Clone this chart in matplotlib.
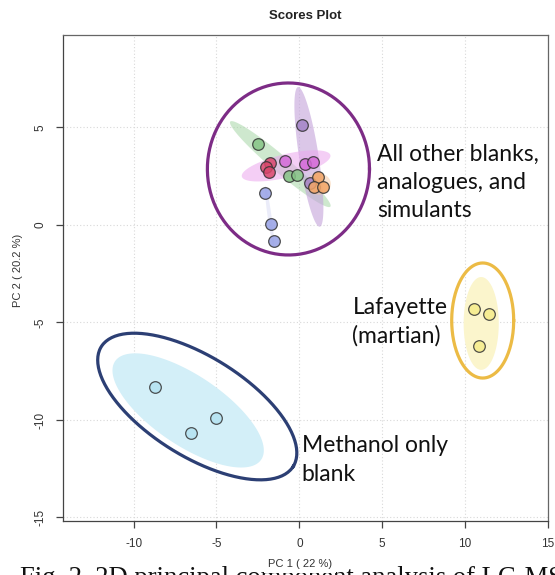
import numpy as np
import matplotlib
matplotlib.use("Agg")
import matplotlib.pyplot as plt

plt.rcParams["axes.unicode_minus"] = False

# PCA scores, one list per group (PC1, PC2)
green_x = [-2.52, -0.62, -0.16]
green_y = [4.15, 2.50, 2.55]
lav_x = [0.18, 0.66]
lav_y = [5.11, 2.14]
red_x = [-1.75, -2.03, -1.85]
red_y = [3.16, 2.96, 2.72]
mag_x = [-0.89, 0.36, 0.81]
mag_y = [3.28, 3.14, 3.21]
orange_x = [1.10, 0.87, 1.45]
orange_y = [2.44, 1.93, 1.97]
peri_x = [-2.10, -1.71, -1.51]
peri_y = [1.66, 0.03, -0.80]
cyan_x = [-8.68, -5.02, -6.55]
cyan_y = [-8.29, -9.88, -10.68]
yellow_x = [10.53, 11.44, 10.83]
yellow_y = [-4.32, -4.58, -6.19]

# ellipses: centre, two conjugate half-axis vectors (data units)
ell_green = [(-1.15, 3.12), (3.02, -2.18), (0.33, 0.33)]
ell_lav = [(0.575, 3.49), (-0.655, 3.58), (0.58, 0.08)]
ell_mag = [(-0.80, 3.03), (2.67, 0.55), (0.17, -0.58)]
ell_orange = [(1.15, 2.10), (0.75, 0.0), (0.0, 0.55)]
ell_peri = [(-1.80, 0.45), (-0.25, 1.55), (0.12, 0.0)]
ell_cyan_fill = [(-6.71, -9.51), (4.41, -2.52), (-1.18, -1.49)]
ell_cyan_line = [(-6.16, -9.31), (5.79, -3.07), (-1.60, -2.17)]
ell_yel_fill = [(10.97, -5.05), (1.06, 0.0), (0.0, 2.38)]
ell_yel_line = [(11.06, -4.90), (1.87, 0.0), (0.0, 2.95)]
ell_big = [(-0.66, 2.87), (4.89, 0.0), (0.0, 4.41)]

xticks = [-10, -5, 0, 5, 10, 15]
yticks = [-15, -10, -5, 0, 5]


def ellipse_xy(e, n=200):
    (cx, cy), (ux, uy), (vx, vy) = e
    t = np.linspace(0, 2 * np.pi, n)
    return cx + ux * np.cos(t) + vx * np.sin(t), cy + uy * np.cos(t) + vy * np.sin(t)


fig = plt.figure(figsize=(5.55, 5.75), dpi=100)
ax = fig.add_axes([63 / 555, 54 / 575, 485 / 555, 486 / 575])
ax.set_xlim(-14.26, 15.0)
ax.set_ylim(-15.18, 9.74)

for v in xticks:
    ax.axvline(v, color="#d8d8d8", lw=0.8, ls=(0, (1, 2)), zorder=0)
for v in yticks:
    ax.axhline(v, color="#d8d8d8", lw=0.8, ls=(0, (1, 2)), zorder=0)

# filled group ellipses
for e, c, a in [(ell_green, "#9fd39f", 0.5), (ell_lav, "#c3a2da", 0.6),
                (ell_mag, "#eba6ee", 0.55), (ell_orange, "#f7c9a0", 0.5),
                (ell_peri, "#c6cbef", 0.35), (ell_cyan_fill, "#d3eff8", 1.0),
                (ell_yel_fill, "#fbf5cc", 1.0)]:
    ex, ey = ellipse_xy(e)
    ax.fill(ex, ey, color=c, alpha=a, lw=0, zorder=1)

# hand-drawn outlines
for e, c in [(ell_big, "#7d2c86"), (ell_cyan_line, "#2c3f74"), (ell_yel_line, "#ecbb45")]:
    ex, ey = ellipse_xy(e)
    ax.plot(ex, ey, color=c, lw=2.3, zorder=2)

groups = [(green_x, green_y, "#86c486"), (lav_x, lav_y, "#a383c8"),
          (red_x, red_y, "#d9476c"), (mag_x, mag_y, "#d46ad8"),
          (orange_x, orange_y, "#f2a566"), (peri_x, peri_y, "#97a1e6"),
          (cyan_x, cyan_y, "#b4e3f2"), (yellow_x, yellow_y, "#f6ec8a")]
for gx, gy, c in groups:
    ax.scatter(gx, gy, s=70, c=c, edgecolors="#333333", linewidths=0.9,
               alpha=0.85, zorder=3)

ax.set_xticks(xticks)
ax.set_yticks(yticks)
ax.tick_params(direction="out", length=5, width=0.9, color="#444444",
               labelsize=8.5, labelcolor="#333333", pad=7)
for lab in ax.get_xticklabels() + ax.get_yticklabels():
    lab.set_family("Liberation Sans")
for lab in ax.get_yticklabels():
    lab.set_rotation(90)
    lab.set_va("center")
for s in ax.spines.values():
    s.set_color("#666666")
    s.set_linewidth(0.9)
ax.spines["left"].set_color("#444444")
ax.spines["bottom"].set_color("#444444")

fig.text(305 / 555, 1 - 16 / 575, "Scores Plot", ha="center", va="center",
         fontsize=9.5, fontweight="bold", color="#222222", family="Liberation Sans")
fig.text(18 / 555, 1 - 270 / 575, "PC 2 ( 20.2 %)", rotation=90,
         ha="center", va="center", fontsize=8, color="#333333",
         family="Liberation Sans")

# clipped figure caption underneath
fig.text(20 / 555, -10 / 575, "Fig. 2. 2D principal component analysis of LC-MS",
         ha="left", va="baseline", fontsize=19.2, family="Liberation Serif",
         color="#111111")
fig.text(300 / 555, 1 - 564 / 575, "PC 1 ( 22 %)", ha="center", va="center",
         fontsize=8, color="#333333", family="Liberation Sans",
         bbox=dict(facecolor="white", edgecolor="none", pad=3))

lab_font = dict(family="Lato", fontsize=16.5, color="#111111", linespacing=1.42)
ax.text(4.7, 2.2, "All other blanks,\nanalogues, and\nsimulants",
        ha="left", va="center", **lab_font)
ax.text(3.2, -4.95, "Lafayette\n(martian)", ha="left", va="center", **lab_font)
ax.text(0.15, -12.05, "Methanol only\nblank", ha="left", va="center", **lab_font)

fig.savefig("out.png", dpi=100)
